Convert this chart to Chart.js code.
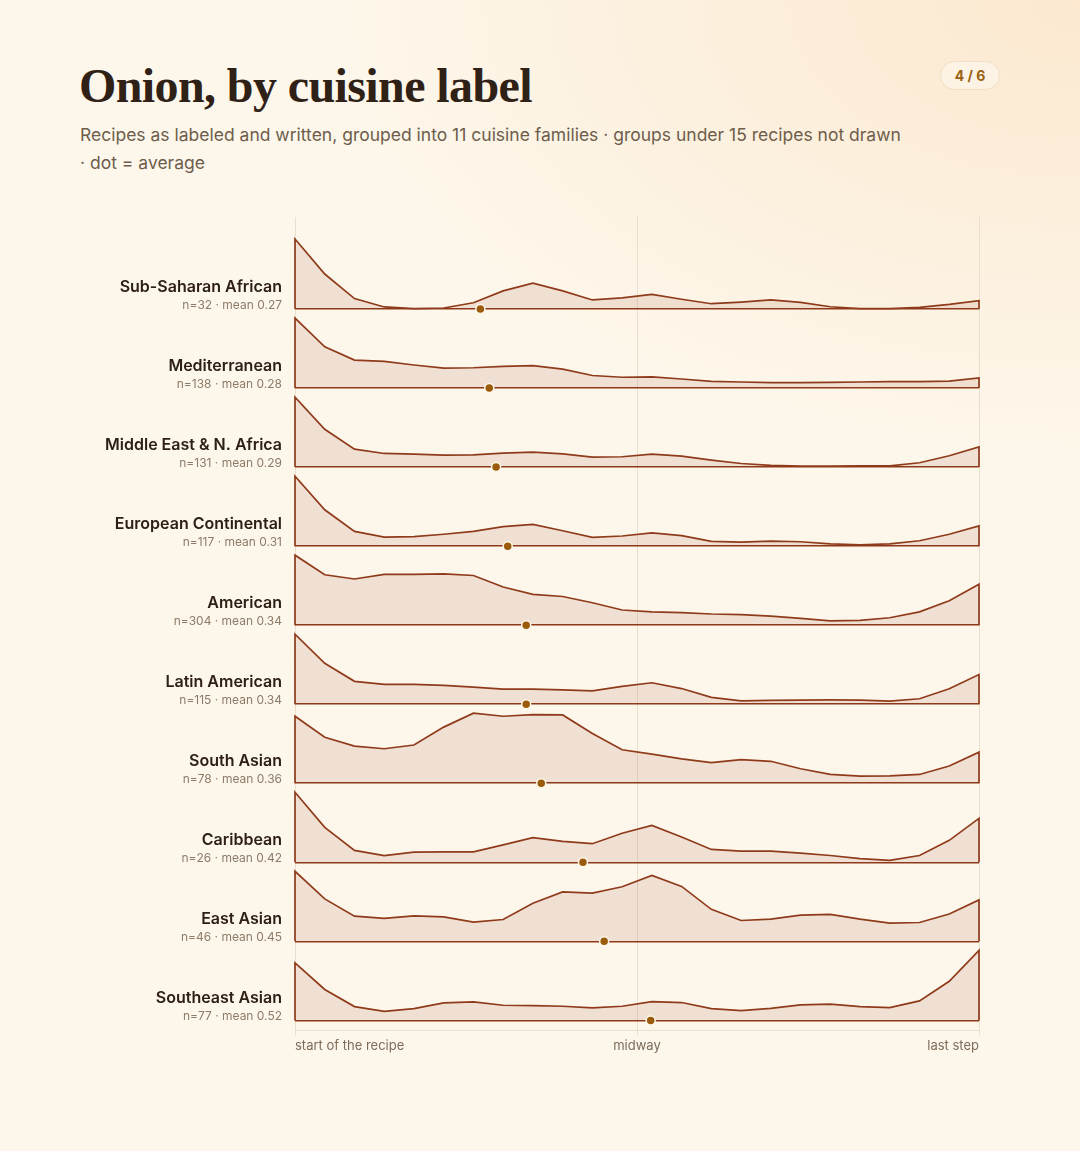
<!DOCTYPE html>
<html>
<head>
<meta charset="utf-8">
<script src="https://cdn.jsdelivr.net/npm/chart.js@4.4.1/dist/chart.umd.min.js"></script>
<style>
  html, body { margin: 0; padding: 0; }
  body {
    width: 1080px; height: 1151px; position: relative; overflow: hidden;
    background:
      radial-gradient(ellipse 760px 460px at 1080px 0px, #fbe8cf 0%, rgba(253,247,235,0) 100%),
      #fdf7eb;
    font-family: Inter, sans-serif;
  }
  h1 {
    position: absolute; left: 79px; top: 58px; margin: 0;
    font-family: "Liberation Serif", serif; font-weight: 700; font-size: 48px;
    letter-spacing: -0.6px; color: #2f2116;
  }
  .sub {
    position: absolute; left: 80px; top: 121px; margin: 0;
    font-size: 17.5px; line-height: 28px; color: #6e5d4c;
  }
  .badge {
    position: absolute; left: 940px; top: 61px; width: 58px; height: 27px;
    border: 1.5px solid #f1dec4; border-radius: 15px; background: #fdf3e4;
    font-size: 14px; font-weight: 700; color: #98600f;
    text-align: center; line-height: 27px;
  }
  #wrap { position: absolute; left: 0; top: 200px; width: 1080px; height: 880px; }
</style>
</head>
<body>
<h1>Onion, by cuisine label</h1>
<p class="sub">Recipes as labeled and written, grouped into 11 cuisine families · groups under 15 recipes not drawn<br>· dot = average</p>
<div class="badge">4 / 6</div>
<div id="wrap"><canvas id="myChart"></canvas></div>
<script>
const cuisines = [
  'Sub-Saharan African',
  'Mediterranean',
  'Middle East & N. Africa',
  'European Continental',
  'American',
  'Latin American',
  'South Asian',
  'Caribbean',
  'East Asian',
  'Southeast Asian',
];
const counts = [32, 138, 131, 117, 304, 115, 78, 26, 46, 77];
const means = [0.271, 0.284, 0.294, 0.311, 0.338, 0.338, 0.36, 0.421, 0.452, 0.52];

// share of onion mentions along the recipe, each row scaled to its own peak
const subSaharan = [1.0, 0.5, 0.15, 0.03, 0.005, 0.015, 0.09, 0.26, 0.37, 0.26, 0.13, 0.16, 0.21, 0.14, 0.076, 0.1, 0.13, 0.095, 0.033, 0.005, 0.005, 0.024, 0.066, 0.12];
const mediterranean = [1.0, 0.59, 0.4, 0.38, 0.33, 0.285, 0.29, 0.31, 0.32, 0.27, 0.18, 0.155, 0.16, 0.13, 0.097, 0.087, 0.077, 0.077, 0.082, 0.087, 0.092, 0.092, 0.1, 0.145];
const middleEast = [1.0, 0.54, 0.257, 0.195, 0.186, 0.17, 0.176, 0.2, 0.214, 0.19, 0.143, 0.148, 0.186, 0.157, 0.1, 0.052, 0.024, 0.014, 0.014, 0.019, 0.019, 0.062, 0.162, 0.29];
const european = [1.0, 0.52, 0.21, 0.13, 0.135, 0.17, 0.21, 0.28, 0.31, 0.22, 0.126, 0.145, 0.19, 0.15, 0.068, 0.058, 0.072, 0.063, 0.034, 0.02, 0.034, 0.077, 0.17, 0.29];
const american = [1.0, 0.72, 0.66, 0.725, 0.725, 0.734, 0.71, 0.546, 0.44, 0.41, 0.32, 0.217, 0.19, 0.18, 0.16, 0.15, 0.13, 0.097, 0.063, 0.068, 0.106, 0.19, 0.35, 0.585];
const latinAmerican = [1.0, 0.585, 0.327, 0.283, 0.283, 0.268, 0.244, 0.215, 0.215, 0.205, 0.19, 0.254, 0.307, 0.224, 0.098, 0.049, 0.054, 0.059, 0.063, 0.059, 0.044, 0.078, 0.22, 0.424];
const southAsian = [0.957, 0.657, 0.531, 0.493, 0.546, 0.802, 1.0, 0.957, 0.98, 0.976, 0.71, 0.478, 0.415, 0.348, 0.295, 0.338, 0.314, 0.208, 0.126, 0.101, 0.106, 0.126, 0.246, 0.444];
const caribbean = [1.0, 0.5, 0.17, 0.097, 0.145, 0.15, 0.15, 0.25, 0.353, 0.3, 0.266, 0.415, 0.527, 0.362, 0.184, 0.16, 0.16, 0.13, 0.097, 0.053, 0.029, 0.097, 0.314, 0.628];
const eastAsian = [1.0, 0.606, 0.36, 0.327, 0.365, 0.35, 0.274, 0.312, 0.543, 0.707, 0.688, 0.779, 0.942, 0.784, 0.457, 0.298, 0.317, 0.375, 0.385, 0.317, 0.26, 0.269, 0.39, 0.591];
const southeastAsian = [0.822, 0.442, 0.197, 0.13, 0.168, 0.25, 0.264, 0.216, 0.21, 0.202, 0.178, 0.202, 0.269, 0.255, 0.168, 0.14, 0.173, 0.221, 0.231, 0.197, 0.183, 0.279, 0.558, 1.0];

const series = [subSaharan, mediterranean, middleEast, european, american, latinAmerican, southAsian, caribbean, eastAsian, southeastAsian];
const xTickLabels = ['start of the recipe', 'midway', 'last step'];

const lineColor = '#8f3b1b';
const fillColor = 'rgba(140, 50, 20, 0.11)';
const gridColor = '#eadfcd';

// each row band is a bit taller than its peak, so ridges don't touch
const rowMax = 79 / 70;

const scales = {
  x: {
    type: 'linear',
    min: 0,
    max: 1,
    afterBuildTicks: s => { s.ticks = [{value: 0}, {value: 0.5}, {value: 1}]; },
    grid: { color: gridColor, lineWidth: 1, tickLength: 5 },
    border: { color: gridColor, width: 1 },
    ticks: {
      align: 'inner',
      maxRotation: 0,
      padding: 3,
      color: '#7d6c5a',
      font: { family: 'Inter', size: 13 },
      callback: v => xTickLabels[Math.round(v * 2)],
    },
  },
  padTop: {
    position: 'left', stack: 'rows', stackWeight: 13, weight: 30,
    grid: { display: false }, ticks: { display: false }, border: { display: false },
  },
};

cuisines.forEach((name, i) => {
  scales['row' + i] = {
    type: 'linear',
    position: 'left',
    stack: 'rows',
    stackWeight: 79,
    weight: 20 - i,
    min: 0,
    max: rowMax,
    afterBuildTicks: s => { s.ticks = [{value: 0}]; },
    grid: { color: lineColor, lineWidth: 1.6, drawTicks: false },
    ticks: { display: false },
    border: { display: false },
  };
});

scales.padBottom = {
  position: 'left', stack: 'rows', stackWeight: 10, weight: 0,
  grid: { display: false }, ticks: { display: false }, border: { display: false },
};

const datasets = [];
series.forEach((vals, i) => {
  const last = vals.length - 1;
  datasets.push({
    type: 'line',
    yAxisID: 'row' + i,
    // close the outline down to the baseline at both ends
    data: [{x: 0, y: 0}].concat(vals.map((v, j) => ({x: j / last, y: v})), [{x: 1, y: 0}]),
    borderColor: lineColor,
    borderWidth: 1.7,
    backgroundColor: fillColor,
    fill: 'origin',
    pointRadius: 0,
    tension: 0,
    clip: false,
    order: 2,
  });
  datasets.push({
    type: 'scatter',
    yAxisID: 'row' + i,
    data: [{x: means[i], y: 0}],
    pointRadius: 4.5,
    backgroundColor: '#9a5c0b',
    borderColor: '#fdf7eb',
    borderWidth: 1.5,
    clip: false,
    order: 1,
  });
});

const rowLabels = {
  id: 'rowLabels',
  afterDraw(chart) {
    const ctx = chart.ctx;
    const right = chart.chartArea.left - 13;
    ctx.save();
    ctx.textAlign = 'right';
    ctx.textBaseline = 'middle';
    cuisines.forEach((name, i) => {
      const y = chart.scales['row' + i].getPixelForValue(0);
      ctx.font = '600 16px Inter';
      ctx.fillStyle = '#2e2015';
      ctx.fillText(name, right, y - 22);
      ctx.font = '12px Inter';
      ctx.fillStyle = '#8c7b69';
      ctx.fillText(`n=${counts[i]} · mean ${means[i].toFixed(2)}`, right, y - 4);
    });
    ctx.restore();
  }
};

const config = {
  type: 'line',
  data: { datasets: datasets },
  options: {
    responsive: true,
    maintainAspectRatio: false,
    animation: false,
    layout: { padding: { left: 287, right: 101, top: 17, bottom: 23 } },
    plugins: {
      legend: { display: false },
      tooltip: { enabled: false },
    },
    scales: scales,
  },
  plugins: [rowLabels],
};

const myChart = new Chart(document.getElementById('myChart'), config);
</script>
</body>
</html>
